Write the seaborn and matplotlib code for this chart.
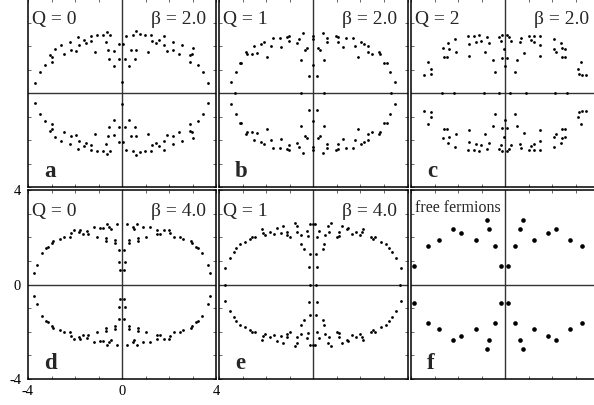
import numpy as np
import pandas as pd
import matplotlib
matplotlib.use("Agg")
import matplotlib.pyplot as plt
import seaborn as sns

sns.set_theme(style="white")
plt.rcParams["font.family"] = ["Liberation Serif", "DejaVu Serif"]

# Eigenvalues in the upper half plane.
# The spectra come in complex-conjugate pairs, so the lower half is the mirror.
# *_real are the eigenvalues lying on the real axis.

# a: Q = 0, beta = 2.0
a_re = [-3.69, -3.48, -3.29, -3.05, -2.98, -2.98, -2.84, -2.58, -2.48, -2.20,
        -2.16, -1.96, -1.87, -1.84, -1.63, -1.52, -1.30, -1.30, -1.13, -1.06,
        -0.81, -0.67, -0.64, -0.61, -0.57, -0.50, -0.35, -0.35, -0.14, -0.13,
        0.03, 0.00, 0.14, 0.17, 0.31, 0.38, 0.45, 0.54, 0.60, 0.60,
        0.78, 0.99, 1.11, 1.25, 1.28, 1.45, 1.56, 1.80, 1.80, 1.91,
        2.16, 2.16, 2.44, 2.55, 2.91, 2.98, 2.91, 3.01, 3.23, 3.43, 3.66]
a_im = [0.43, 0.89, 1.18, 1.60, 1.53, 1.30, 1.89, 2.04, 1.66, 2.16,
        1.84, 1.77, 2.38, 2.06, 2.27, 2.13, 2.44, 2.20, 1.74, 2.45,
        2.48, 2.16, 2.58, 1.84, 1.45, 2.45, 1.13, 1.80, 1.46, 2.09,
        2.09, 0.47, 1.46, 2.41, 1.13, 1.82, 2.45, 1.46, 1.84, 2.62,
        2.50, 2.45, 1.74, 2.45, 2.20, 2.13, 2.27, 2.41, 2.06, 1.77,
        2.16, 1.84, 1.67, 2.06, 1.60, 1.66, 1.32, 1.91, 1.21, 0.89, 0.43]
a_real = []

# b: Q = 1, beta = 2.0
b_re = [-3.50, -3.29, -3.12, -3.05, -2.87, -2.81, -2.58, -2.51, -2.37, -2.23,
        -2.09, -1.96, -1.80, -1.70, -1.42, -1.35, -1.11, -1.02, -1.02, -0.67,
        -0.60, -0.45, -0.50, -0.33, -0.28, -0.18, -0.03, -0.03, 0.00, 0.18,
        0.21, 0.28, 0.43, 0.47, 0.57, 0.60, 0.95, 1.04, 1.04, 1.28,
        1.38, 1.70, 1.77, 1.91, 2.03, 2.17, 2.34, 2.31, 2.51, 2.81,
        2.84, 3.02, 3.12, 3.26, 3.45]
b_im = [0.48, 0.89, 1.28, 1.28, 1.73, 1.66, 1.67, 2.01, 1.70, 2.09,
        2.17, 1.53, 2.01, 2.34, 2.34, 1.96, 2.38, 2.44, 2.20, 2.13,
        2.31, 2.55, 1.39, 1.84, 1.91, 0.71, 2.41, 2.30, 1.21, 0.71,
        1.91, 1.84, 2.55, 1.39, 2.34, 2.16, 2.44, 2.38, 2.16, 1.96,
        2.34, 2.34, 2.01, 1.53, 2.17, 2.09, 2.01, 1.73, 1.67, 1.73,
        1.66, 1.28, 1.28, 0.89, 0.48]
b_real = [-3.33, -0.50, 0.47, 3.30]

# c: Q = 2, beta = 2.0
c_re = [-3.45, -3.26, -3.16, -3.16, -2.62, -2.60, -2.45, -2.41, -2.38, -2.13,
        -2.10, -1.56, -1.53, -1.52, -1.30, -1.25, -1.09, -1.04, -0.85, -0.75,
        -0.68, -0.52, -0.43, -0.24, -0.18, -0.11, -0.03, -0.11, 0.00, 0.07,
        0.07, 0.17, 0.24, 0.50, 0.43, 0.67, 0.64, 0.82, 1.04, 1.09,
        1.23, 1.25, 1.49, 1.49, 1.49, 2.10, 2.16, 2.09, 2.38, 2.41,
        2.44, 2.55, 2.55, 3.12, 3.15, 3.23, 3.26, 3.43]
c_im = [0.78, 1.30, 1.02, 0.82, 1.91, 1.53, 1.53, 2.13, 1.89, 2.30,
        1.74, 2.41, 2.09, 1.59, 2.41, 2.17, 2.48, 2.20, 1.73, 2.38,
        2.13, 1.39, 0.89, 2.38, 2.20, 2.48, 1.89, 1.49, 1.13, 1.49,
        2.48, 2.38, 2.20, 1.39, 0.89, 2.34, 2.16, 1.70, 2.44, 2.24,
        2.16, 2.41, 2.41, 2.06, 1.59, 2.30, 1.74, 1.89, 2.13, 1.91,
        1.53, 1.87, 1.53, 1.02, 0.82, 1.30, 0.78, 0.78]
c_real = [-2.67, -2.16, -0.89, -0.24, 0.21, 0.88, 2.13, 2.62]

# d: Q = 0, beta = 4.0
d_re = [-3.76, -3.63, -3.42, -3.23, -3.13, -2.99, -2.95, -2.64, -2.48, -2.20,
        -2.17, -2.03, -1.84, -1.79, -1.67, -1.49, -1.46, -1.21, -1.06, -0.94,
        -0.82, -0.65, -0.57, -0.68, -0.68, -0.47, -0.30, -0.30, -0.23, -0.11,
        0.10, -0.11, 0.13, -0.09, 0.07, 0.21, 0.31, 0.31, 0.50, 0.45,
        0.64, 0.88, 1.02, 0.67, 0.67, 1.19, 1.49, 1.49, 1.62, 1.80,
        2.01, 2.06, 2.20, 2.47, 2.61, 2.94, 2.98, 3.15, 3.25, 3.39,
        3.65, 3.74]
d_im = [0.50, 0.81, 1.32, 1.53, 1.60, 1.74, 1.84, 1.94, 2.03, 2.03,
        2.16, 2.30, 2.24, 2.30, 2.13, 2.27, 2.13, 2.45, 2.01, 2.38,
        2.41, 2.55, 2.45, 1.96, 1.84, 2.34, 1.87, 1.74, 2.55, 1.46,
        1.46, 0.96, 0.96, 0.60, 0.60, 2.55, 1.87, 1.74, 2.34, 2.45,
        2.55, 2.45, 2.01, 1.96, 1.84, 2.45, 2.30, 2.13, 2.13, 2.30,
        2.30, 2.17, 2.03, 2.03, 1.94, 1.84, 1.74, 1.60, 1.53, 1.32,
        0.81, 0.50]
d_real = []

# e: Q = 1, beta = 4.0
e_re = [-3.73, -3.55, -3.36, -3.26, -3.12, -2.91, -2.67, -2.58, -2.48, -2.16,
        -2.13, -2.03, -1.84, -1.67, -1.53, -1.38, -1.28, -1.13, -1.11, -0.99,
        -0.78, -0.67, -0.71, -0.50, -0.52, -0.38, -0.28, -0.24, -0.14, -0.14,
        -0.18, -0.03, 0.07, 0.11, 0.17, 0.18, 0.26, 0.40, 0.47, 0.50,
        0.68, 0.61, 0.75, 0.99, 1.09, 1.09, 1.23, 1.42, 1.46, 1.63,
        1.80, 1.99, 2.06, 2.10, 2.44, 2.55, 2.62, 2.87, 3.09, 3.23,
        3.33, 3.50, 3.72]
e_im = [0.71, 1.13, 1.39, 1.56, 1.70, 1.82, 1.94, 1.99, 2.03, 2.34,
        2.17, 2.09, 2.24, 2.13, 2.41, 2.20, 2.48, 2.24, 2.09, 2.01,
        2.62, 2.48, 2.24, 2.10, 1.73, 1.49, 2.27, 2.06, 2.58, 1.30,
        0.75, 2.58, 2.58, 1.30, 0.75, 2.01, 2.27, 1.49, 1.73, 2.10,
        2.24, 2.48, 2.62, 2.01, 2.06, 2.24, 2.48, 2.34, 2.41, 2.13,
        2.24, 2.10, 2.24, 2.34, 2.03, 1.94, 1.99, 1.82, 1.70, 1.56,
        1.39, 1.13, 0.71]
e_real = [-3.73, -0.14, 0.11, 3.69]

# f: free fermions
f_re = [-3.87, -3.29, -2.79, -2.20, -1.87, -1.23, -0.78, -0.67, -0.44, -0.17,
        0.14, 0.43, 0.64, 0.75, 1.23, 1.84, 2.17, 2.77, 3.26]
f_im = [0.78, 1.63, 1.87, 2.34, 2.17, 1.87, 2.74, 2.34, 1.63, 0.78,
        0.78, 1.63, 2.34, 2.74, 1.87, 2.17, 2.34, 1.87, 1.63]
f_real = []

W, H = 594, 405


def spectrum(re, im, real):
    x = list(re) + list(re) + list(real)
    y = list(im) + [-v for v in im] + [0.0] * len(real)
    return pd.DataFrame({"re": x, "im": y})


def rect(l, t, r, b):
    return [l / W, 1 - b / H, (r - l) / W, (b - t) / H]


panels = [
    (rect(28, -1, 216, 187), spectrum(a_re, a_im, a_real), "Q = 0", "\u03b2 = 2.0", "a", 4),
    (rect(219, -1, 407.5, 187), spectrum(b_re, b_im, b_real), "Q = 1", "\u03b2 = 2.0", "b", 4),
    (rect(411, -1, 599, 187), spectrum(c_re, c_im, c_real), "Q = 2", "\u03b2 = 2.0", "c", 4),
    (rect(28, 190, 216, 379), spectrum(d_re, d_im, d_real), "Q = 0", "\u03b2 = 4.0", "d", 4),
    (rect(219, 190, 407.5, 379), spectrum(e_re, e_im, e_real), "Q = 1", "\u03b2 = 4.0", "e", 4),
    (rect(411, 190, 599, 379), spectrum(f_re, f_im, f_real), "free fermions", "", "f", 11),
]

fig = plt.figure(figsize=(W / 100, H / 100), dpi=100)

for pos, df, left_txt, right_txt, letter, size in panels:
    ax = fig.add_axes(pos)
    ax.set_xlim(-4, 4)
    ax.set_ylim(-4, 4)
    ax.axhline(0, color="0.2", lw=1.0, zorder=1)
    ax.axvline(0, color="0.2", lw=1.0, zorder=1)
    sns.scatterplot(data=df, x="re", y="im", ax=ax, color="black", s=size,
                    linewidth=0, legend=False, zorder=3)
    ax.set_xlabel("")
    ax.set_ylabel("")
    for sp in ax.spines.values():
        sp.set_color("black")
        sp.set_linewidth(1.1)
    ticks = list(range(-4, 5))
    ax.set_xticks(ticks)
    ax.set_yticks(ticks)
    ax.tick_params(direction="in", length=2.5, width=0.6, color="0.3",
                   top=True, right=True, bottom=True, left=True)
    if letter == "d":
        labs = ["-4" if t == -4 else "0" if t == 0 else "4" if t == 4 else "" for t in ticks]
        ax.set_xticklabels(labs)
        ax.set_yticklabels(labs)
        ax.tick_params(axis="x", labelsize=10.5, pad=4, labelcolor="black")
        ax.tick_params(axis="y", labelsize=10.5, pad=5, labelcolor="black")
    else:
        ax.set_xticklabels([])
        ax.set_yticklabels([])

    if left_txt == "free fermions":
        ax.text(-3.83, 3.05, left_txt, fontsize=11.5, ha="left", va="baseline")
    else:
        ax.text(-3.83, 2.92, left_txt, fontsize=14, ha="left", va="baseline")
    if right_txt:
        ax.text(3.57, 2.92, right_txt, fontsize=14, ha="right", va="baseline")
    ax.text(-3.32, -3.58, letter, fontsize=16.5, fontweight="bold",
            ha="left", va="baseline")

fig.savefig("out.png", dpi=100)
